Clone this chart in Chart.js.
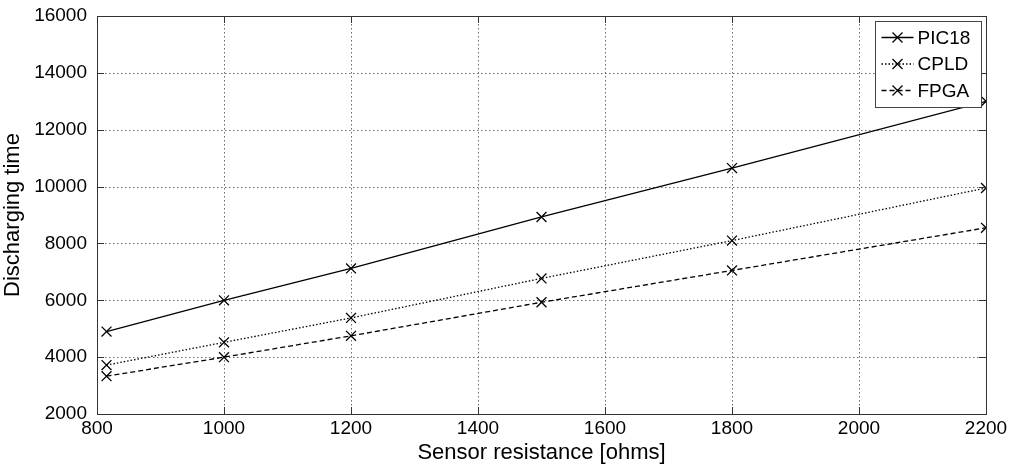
<!DOCTYPE html>
<html>
<head>
<meta charset="utf-8">
<script src="https://cdn.jsdelivr.net/npm/chart.js@4.4.1/dist/chart.umd.min.js"></script>
<style>
  html, body { margin: 0; padding: 0; background: #fff; }
  #wrap { width: 1018px; height: 466px; }
</style>
</head>
<body>
<div id="wrap"><canvas id="c" width="1018" height="466"></canvas></div>
<script>
const resistance = [815, 1000, 1200, 1500, 1800, 2200];
const pic18 = [4900, 6000, 7120, 8930, 10650, 13000];
const cpld = [3720, 4520, 5380, 6770, 8100, 9950];
const fpga = [3330, 4000, 4750, 5930, 7050, 8550];
const seriesNames = ['PIC18', 'CPLD', 'FPGA'];
const xTitle = 'Sensor resistance [ohms]';
const yTitle = 'Discharging time';
const xTicks = [800, 1000, 1200, 1400, 1600, 1800, 2000, 2200];
const yTicks = [2000, 4000, 6000, 8000, 10000, 12000, 14000, 16000];

const FONT = '"Liberation Sans", Arial, sans-serif';
const toPts = (arr) => arr.map((v, i) => ({ x: resistance[i], y: v }));

const dashes = [[], [1.5, 2], [5, 3]];
const datasets = [pic18, cpld, fpga].map((arr, i) => ({
  label: seriesNames[i],
  data: toPts(arr),
  borderColor: '#000',
  backgroundColor: '#000',
  borderWidth: 1.3,
  borderDash: dashes[i],
  pointStyle: 'crossRot',
  pointRadius: 7,
  pointBorderWidth: 1.3,
  pointBorderColor: '#000',
  pointHoverRadius: 7,
  fill: false,
  tension: 0
}));

const gridPlugin = {
  id: 'dottedGrid',
  beforeDatasetsDraw(chart) {
    const { ctx, chartArea: a, scales } = chart;
    ctx.save();
    ctx.strokeStyle = '#6a6a6a';
    ctx.lineWidth = 1;
    ctx.setLineDash([1.5, 2.5]);
    ctx.beginPath();
    xTicks.forEach(v => {
      const px = Math.round(scales.x.getPixelForValue(v)) + 0.5;
      ctx.moveTo(px, a.top); ctx.lineTo(px, a.bottom);
    });
    yTicks.forEach(v => {
      const py = Math.round(scales.y.getPixelForValue(v)) + 0.5;
      ctx.moveTo(a.left, py); ctx.lineTo(a.right, py);
    });
    ctx.stroke();
    ctx.restore();
  }
};

const framePlugin = {
  id: 'frame',
  afterDatasetsDraw(chart) {
    const { ctx, chartArea: a, scales } = chart;
    ctx.save();
    ctx.strokeStyle = '#333';
    ctx.lineWidth = 1;
    ctx.setLineDash([]);
    const tl = 7;
    ctx.beginPath();
    xTicks.forEach(v => {
      const px = Math.round(scales.x.getPixelForValue(v)) + 0.5;
      ctx.moveTo(px, a.bottom); ctx.lineTo(px, a.bottom - tl);
      ctx.moveTo(px, a.top); ctx.lineTo(px, a.top + tl);
    });
    yTicks.forEach(v => {
      const py = Math.round(scales.y.getPixelForValue(v)) + 0.5;
      ctx.moveTo(a.left, py); ctx.lineTo(a.left + tl, py);
      ctx.moveTo(a.right, py); ctx.lineTo(a.right - tl, py);
    });
    ctx.stroke();
    ctx.strokeRect(Math.round(a.left) + 0.5, Math.round(a.top) + 0.5,
                   Math.round(a.right - a.left), Math.round(a.bottom - a.top));
    // legend box
    const bx = 875.5, by = 21.5, bw = 106, bh = 86;
    ctx.fillStyle = '#fff';
    ctx.fillRect(bx, by, bw, bh);
    ctx.strokeStyle = '#444';
    ctx.strokeRect(bx, by, bw, bh);
    ctx.font = '19px ' + FONT;
    ctx.textBaseline = 'middle';
    ctx.textAlign = 'left';
    chart.data.datasets.forEach((ds, i) => {
      const yy = by + 16 + i * 26.5;
      ctx.strokeStyle = '#000';
      ctx.lineWidth = 1.3;
      ctx.setLineDash(ds.borderDash);
      ctx.beginPath();
      ctx.moveTo(bx + 6, yy); ctx.lineTo(bx + 38, yy);
      ctx.stroke();
      ctx.setLineDash([]);
      const r = 5;
      ctx.beginPath();
      ctx.moveTo(bx + 22 - r, yy - r); ctx.lineTo(bx + 22 + r, yy + r);
      ctx.moveTo(bx + 22 - r, yy + r); ctx.lineTo(bx + 22 + r, yy - r);
      ctx.stroke();
      ctx.fillStyle = '#000';
      ctx.fillText(ds.label, bx + 42, yy + 1);
    });
    ctx.restore();
  }
};

new Chart(document.getElementById('c'), {
  type: 'line',
  data: { datasets },
  options: {
    responsive: false,
    animation: false,
    devicePixelRatio: 1,
    layout: { padding: { left: 0, right: 32, top: 16, bottom: 0 } },
    plugins: { legend: { display: false }, tooltip: { enabled: false } },
    scales: {
      x: {
        type: 'linear',
        min: 800, max: 2200,
        afterBuildTicks(s) { s.ticks = xTicks.map(v => ({ value: v })); },
        afterFit(s) { s.height = 52; s.paddingLeft = 0; s.paddingRight = 0; },
        grid: { display: false, drawTicks: false },
        border: { display: false },
        ticks: { color: '#000', font: { family: FONT, size: 19 }, padding: 3, maxRotation: 0, autoSkip: false,
                 callback: (v) => String(v) },
        title: { display: true, text: xTitle, color: '#000', font: { family: FONT, size: 22 }, padding: { top: 0, bottom: 0 } }
      },
      y: {
        type: 'linear',
        min: 2000, max: 16000,
        afterBuildTicks(s) { s.ticks = yTicks.map(v => ({ value: v })); },
        afterFit(s) { s.width = 97; s.paddingTop = 0; s.paddingBottom = 0; },
        grid: { display: false, drawTicks: false },
        border: { display: false },
        ticks: { color: '#000', font: { family: FONT, size: 19 }, padding: 10, autoSkip: false,
                 callback: (v) => String(v) },
        title: { display: true, text: yTitle, color: '#000', font: { family: FONT, size: 22 }, padding: { top: 0, bottom: 2 } }
      }
    }
  },
  plugins: [gridPlugin, framePlugin]
});
</script>
</body>
</html>
